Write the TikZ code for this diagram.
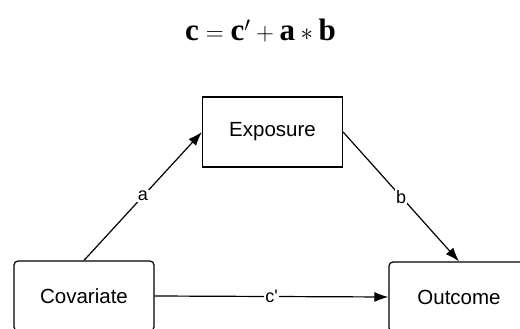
\documentclass[tikz,border=0pt]{standalone}
\usepackage{fontspec}
\setmainfont{Liberation Serif}
\newfontfamily\boxfont{Liberation Sans}
\usetikzlibrary{positioning,arrows.meta}

\tikzset{
  varbox/.style={draw,line width=1.2pt,minimum width=140pt,minimum height=70pt,font=\boxfont\fontsize{20.5}{24}\selectfont},
  pathlbl/.style={midway,fill=white,inner sep=1pt,font=\boxfont\fontsize{18}{20}\selectfont},
  link/.style={line width=1.2pt,-{Latex[length=14pt,width=10pt]}}
}

\begin{document}
\begin{tikzpicture}[x=1pt,y=-1pt]
\useasboundingbox (0,0) rectangle (520,329);
\clip (0,0) rectangle (520,329);
\node (eq) at (260.5,31) {\fontsize{31}{35}\selectfont$\mathbf{c}=\mathbf{c}'+\mathbf{a}*\mathbf{b}$};
\node[varbox] (expo) at (272.5,132) {Exposure};
\node[varbox,rounded corners=4pt] (cov) at (84,296) {Covariate};
\node[varbox,rounded corners=4pt] (out) at (459,297) {Outcome};
\draw[link] (cov.north) -- (expo.west) node[pathlbl] {a};
\draw[link] (expo.east) -- (out.north) node[pathlbl] {b};
\draw[link] (cov.east) -- (out.west) node[pathlbl] {c'};
\end{tikzpicture}
\end{document}
